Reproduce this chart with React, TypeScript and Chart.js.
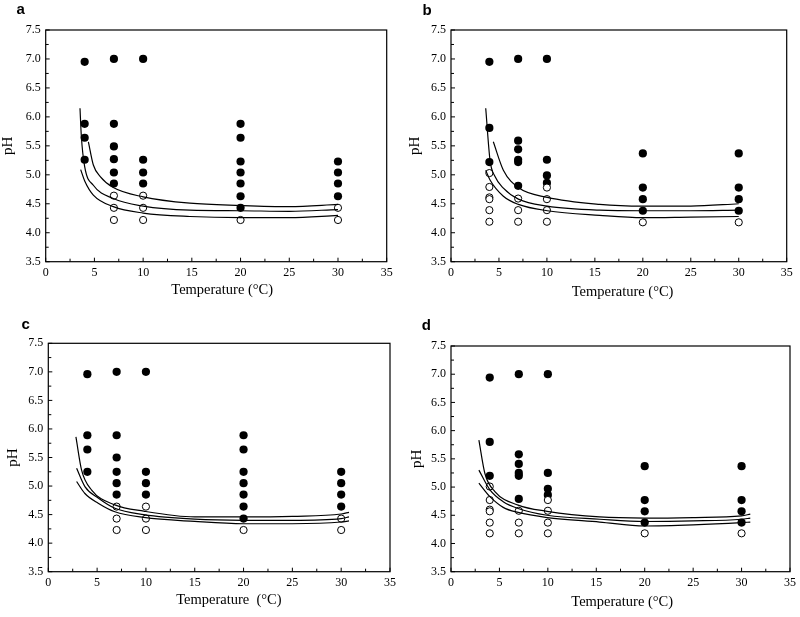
import React, { useEffect, useRef } from "react";
import { Chart, registerables } from "chart.js";

Chart.register(...registerables);

// ---------- shared axes ----------
const TEMPS = [4, 7, 10, 20, 30];
const X_MIN = 0;
const X_MAX = 35;
const X_STEP = 2.5;
const X_LABEL_EVERY = 5;
const Y_MIN = 3.5;
const Y_MAX = 7.5;
const Y_STEP = 0.25;
const Y_LABEL_EVERY = 0.5;
const Y_TITLE = "pH";

// ---------- panel a ----------
const A_GROWTH = [
  [6.95, 5.88, 5.64, 5.26],
  [7.0, 5.88, 5.49, 5.27, 5.04, 4.85],
  [7.0, 5.26, 5.04, 4.85],
  [5.88, 5.64, 5.23, 5.04, 4.85, 4.63, 4.43],
  [5.23, 5.04, 4.85, 4.63],
];
const A_NO_GROWTH = [[], [4.64, 4.43, 4.22], [4.64, 4.43, 4.22], [4.22], [4.43, 4.22]];
const A_UPPER_T = [4.38, 4.89, 5.6, 6.94, 10.0, 14.8, 20, 25, 30];
const A_UPPER_PH = [5.57, 5.17, 4.97, 4.78, 4.62, 4.51, 4.47, 4.45, 4.49];
const A_MID_T = [3.52, 3.66, 4.0, 4.89, 6.94, 10.0, 14.8, 20, 25, 30];
const A_MID_PH = [6.15, 5.66, 5.14, 4.82, 4.59, 4.46, 4.39, 4.38, 4.37, 4.4];
const A_LOWER_T = [3.59, 4.04, 4.89, 6.94, 10.0, 14.8, 20, 25, 30];
const A_LOWER_PH = [5.09, 4.88, 4.65, 4.45, 4.34, 4.28, 4.26, 4.26, 4.3];

// ---------- panel b ----------
const B_GROWTH = [
  [6.95, 5.81, 5.22],
  [7.0, 5.59, 5.44, 5.26, 5.22, 4.81],
  [7.0, 5.26, 4.99, 4.86],
  [5.37, 4.78, 4.58, 4.38],
  [5.37, 4.78, 4.58, 4.38],
];
const B_NO_GROWTH = [
  [5.03, 4.79, 4.61, 4.58, 4.39, 4.19],
  [4.59, 4.39, 4.19],
  [4.78, 4.58, 4.39, 4.19],
  [4.18],
  [4.18],
];
const B_UPPER_T = [4.41, 5.46, 7.02, 10.04, 15.5, 20, 25, 30];
const B_UPPER_PH = [5.57, 5.08, 4.78, 4.61, 4.49, 4.46, 4.46, 4.5];
const B_MID_T = [3.62, 4.07, 4.59, 5.46, 7.02, 10.04, 15.5, 20, 25, 30];
const B_MID_PH = [6.15, 5.25, 4.97, 4.77, 4.58, 4.46, 4.39, 4.38, 4.38, 4.39];
const B_LOWER_T = [3.62, 4.07, 5.46, 7.02, 10.04, 15.5, 20, 25, 30];
const B_LOWER_PH = [5.08, 4.91, 4.63, 4.49, 4.38, 4.3, 4.26, 4.27, 4.28];

// ---------- panel c ----------
const C_GROWTH = [
  [6.96, 5.89, 5.64, 5.25],
  [7.0, 5.89, 5.5, 5.25, 5.05, 4.85],
  [7.0, 5.25, 5.05, 4.85],
  [5.89, 5.64, 5.25, 5.05, 4.85, 4.64, 4.43],
  [5.25, 5.05, 4.85, 4.64],
];
const C_NO_GROWTH = [[], [4.64, 4.43, 4.23], [4.64, 4.43, 4.23], [4.23], [4.43, 4.23]];
const C_UPPER_T = [2.83, 3.41, 4.44, 6.82, 9.78, 15.0, 20, 25, 30, 30.8];
const C_UPPER_PH = [5.86, 5.28, 4.93, 4.67, 4.56, 4.46, 4.46, 4.47, 4.51, 4.54];
const C_MID_T = [2.9, 3.75, 5.11, 6.82, 9.78, 15.0, 20, 25, 30, 30.8];
const C_MID_PH = [5.31, 4.99, 4.79, 4.61, 4.5, 4.42, 4.4, 4.4, 4.43, 4.46];
const C_LOWER_T = [2.9, 3.75, 5.11, 6.82, 9.78, 15.0, 20, 25, 30, 30.8];
const C_LOWER_PH = [5.08, 4.87, 4.7, 4.55, 4.45, 4.38, 4.34, 4.34, 4.37, 4.39];

// ---------- panel d ----------
const D_GROWTH = [
  [6.94, 5.8, 5.2],
  [7.0, 5.58, 5.41, 5.25, 5.2, 4.79],
  [7.0, 5.25, 4.97, 4.86],
  [5.37, 4.77, 4.57, 4.37],
  [5.37, 4.77, 4.57, 4.37],
];
const D_NO_GROWTH = [
  [5.01, 4.77, 4.6, 4.57, 4.37, 4.18],
  [4.58, 4.37, 4.18],
  [4.77, 4.58, 4.37, 4.18],
  [4.18],
  [4.18],
];
const D_UPPER_T = [2.88, 3.5, 4.53, 6.93, 9.92, 15.35, 20, 25, 30, 30.9];
const D_UPPER_PH = [5.83, 5.24, 4.92, 4.68, 4.57, 4.47, 4.45, 4.46, 4.49, 4.52];
const D_MID_T = [2.88, 4.02, 5.39, 6.93, 9.92, 15.35, 20, 25, 30, 30.9];
const D_MID_PH = [5.3, 4.95, 4.74, 4.62, 4.5, 4.43, 4.39, 4.4, 4.43, 4.45];
const D_LOWER_T = [2.88, 4.02, 5.39, 6.93, 9.92, 15.35, 20, 25, 30, 30.9];
const D_LOWER_PH = [5.07, 4.83, 4.64, 4.55, 4.46, 4.38, 4.31, 4.33, 4.37, 4.38];

const SERIF = "'Liberation Serif', 'Times New Roman', serif";
const SANS = "'Liberation Sans', Arial, sans-serif";

type Pt = { x: number; y: number };

function columnPoints(cols: number[][]): Pt[] {
  return TEMPS.flatMap((t, i) => cols[i].map((ph) => ({ x: t, y: ph })));
}
function curvePoints(ts: number[], phs: number[]): Pt[] {
  return ts.map((t, i) => ({ x: t, y: phs[i] }));
}

type PanelSpec = {
  key: string;
  left: number;
  top: number;
  w: number;
  h: number;
  area: { l: number; t: number; r: number; b: number };
  labelLeft: number;
  labelTop: number;
  yTitlePad: number;
  xTitle: string;
  xTitleCY: number;
  xTitleDx: number;
  growth: number[][];
  noGrowth: number[][];
  curves: [number[], number[]][];
};

const PANELS: PanelSpec[] = [
  {
    key: "a", left: 0, top: 0, w: 400, h: 310,
    area: { l: 45.7, t: 30, r: 386.7, b: 261.7 },
    labelLeft: 16.5, labelTop: 0.5, yTitlePad: -1.3,
    xTitle: "Temperature (°C)", xTitleCY: 290.5, xTitleDx: 6,
    growth: A_GROWTH, noGrowth: A_NO_GROWTH,
    curves: [[A_UPPER_T, A_UPPER_PH], [A_MID_T, A_MID_PH], [A_LOWER_T, A_LOWER_PH]],
  },
  {
    key: "b", left: 400, top: 0, w: 400, h: 310,
    area: { l: 51, t: 30, r: 386.7, b: 261.7 },
    labelLeft: 22.5, labelTop: 1.5, yTitlePad: 6,
    xTitle: "Temperature (°C)", xTitleCY: 292, xTitleDx: 3.7,
    growth: B_GROWTH, noGrowth: B_NO_GROWTH,
    curves: [[B_UPPER_T, B_UPPER_PH], [B_MID_T, B_MID_PH], [B_LOWER_T, B_LOWER_PH]],
  },
  {
    key: "c", left: 0, top: 310, w: 400, h: 307,
    area: { l: 48.3, t: 33.3, r: 390.7, b: 261.7 },
    labelLeft: 21.5, labelTop: 5.5, yTitlePad: 4,
    xTitle: "Temperature  (°C)", xTitleCY: 290, xTitleDx: 9.7,
    growth: C_GROWTH, noGrowth: C_NO_GROWTH,
    curves: [[C_UPPER_T, C_UPPER_PH], [C_MID_T, C_MID_PH], [C_LOWER_T, C_LOWER_PH]],
  },
  {
    key: "d", left: 400, top: 310, w: 400, h: 307,
    area: { l: 51, t: 36, r: 390.7, b: 261.7 },
    labelLeft: 21.7, labelTop: 6.5, yTitlePad: 8,
    xTitle: "Temperature (°C)", xTitleCY: 292, xTitleDx: 1.7,
    growth: D_GROWTH, noGrowth: D_NO_GROWTH,
    curves: [[D_UPPER_T, D_UPPER_PH], [D_MID_T, D_MID_PH], [D_LOWER_T, D_LOWER_PH]],
  },
];

function isMultiple(v: number, step: number) {
  const r = v / step;
  return Math.abs(r - Math.round(r)) < 1e-6;
}

function Panel({ spec }: { spec: PanelSpec }) {
  const ref = useRef<HTMLCanvasElement | null>(null);
  useEffect(() => {
    if (!ref.current) return;
    const { area, w, h } = spec;
    const framePlugin = {
      id: "frame" + spec.key,
      afterDraw(chart: any) {
        const { ctx, chartArea: a, scales } = chart;
        ctx.save();
        ctx.strokeStyle = "#000";
        ctx.lineWidth = 1.2;
        ctx.strokeRect(a.left, a.top, a.right - a.left, a.bottom - a.top);
        ctx.lineWidth = 1;
        ctx.beginPath();
        const xs = scales.x;
        xs.ticks.forEach((t: any) => {
          const px = xs.getPixelForValue(t.value);
          const len = isMultiple(t.value, X_LABEL_EVERY) ? 4 : 3;
          ctx.moveTo(px, a.bottom);
          ctx.lineTo(px, a.bottom - len);
        });
        const ys = scales.y;
        ys.ticks.forEach((t: any) => {
          const py = ys.getPixelForValue(t.value);
          const len = isMultiple(t.value, Y_LABEL_EVERY) ? 4 : 3;
          ctx.moveTo(a.left, py);
          ctx.lineTo(a.left + len, py);
        });
        ctx.stroke();
        ctx.fillStyle = "#000";
        ctx.font = `14.5px ${SERIF}`;
        ctx.textAlign = "center";
        ctx.textBaseline = "middle";
        ctx.fillText(spec.xTitle, (a.left + a.right) / 2 + spec.xTitleDx, spec.xTitleCY);
        ctx.restore();
      },
    };

    const lineSets = spec.curves.map(([ts, phs], i) => ({
      type: "line" as const,
      label: "boundary " + (i + 1),
      data: curvePoints(ts, phs),
      borderColor: "#000",
      borderWidth: 1.2,
      pointRadius: 0,
      fill: false,
      cubicInterpolationMode: "monotone" as const,
      order: 0,
    }));

    const chart = new Chart(ref.current, {
      type: "scatter",
      data: {
        datasets: [
          ...lineSets,
          {
            label: "no growth",
            data: columnPoints(spec.noGrowth),
            pointRadius: 3.6,
            pointBackgroundColor: "#fff",
            pointBorderColor: "#000",
            pointBorderWidth: 1,
            order: 1,
          },
          {
            label: "growth",
            data: columnPoints(spec.growth),
            pointRadius: 4.1,
            pointBackgroundColor: "#000",
            pointBorderColor: "#000",
            pointBorderWidth: 0,
            order: 2,
          },
        ] as any,
      },
      options: {
        animation: false,
        responsive: false,
        events: [],
        layout: { padding: { left: 0, top: area.t, right: w - area.r, bottom: 0 } },
        plugins: { legend: { display: false }, tooltip: { enabled: false } },
        scales: {
          x: {
            type: "linear",
            min: X_MIN,
            max: X_MAX,
            afterFit: (s: any) => {
              s.height = h - area.b;
            },
            grid: { display: false, drawTicks: false },
            border: { display: false },
            ticks: {
              stepSize: X_STEP,
              autoSkip: false,
              maxRotation: 0,
              padding: 4,
              color: "#000",
              font: { family: SERIF, size: 12 },
              callback: (v: any) => (isMultiple(Number(v), X_LABEL_EVERY) ? String(v) : ""),
            },
          },
          y: {
            type: "linear",
            min: Y_MIN,
            max: Y_MAX,
            afterFit: (s: any) => {
              s.width = area.l;
            },
            grid: { display: false, drawTicks: false },
            border: { display: false },
            title: {
              display: true,
              text: Y_TITLE,
              color: "#000",
              font: { family: SERIF, size: 15 },
              padding: { top: spec.yTitlePad, bottom: 0 },
            },
            ticks: {
              stepSize: Y_STEP,
              autoSkip: false,
              padding: 5,
              color: "#000",
              font: { family: SERIF, size: 12 },
              callback: (v: any) =>
                isMultiple(Number(v), Y_LABEL_EVERY) ? Number(v).toFixed(1) : "",
            },
          },
        },
      },
      plugins: [framePlugin],
    });
    return () => chart.destroy();
  }, [spec]);

  return (
    <>
      <canvas
        ref={ref}
        width={spec.w}
        height={spec.h}
        style={{ position: "absolute", left: spec.left, top: spec.top, width: spec.w, height: spec.h }}
      />
      <div
        style={{
          position: "absolute",
          left: spec.left + spec.labelLeft,
          top: spec.top + spec.labelTop,
          font: `bold 15px ${SANS}`,
          lineHeight: "15px",
          color: "#000",
        }}
      >
        {spec.key}
      </div>
    </>
  );
}

export default function App() {
  return (
    <div
      style={{
        position: "absolute",
        left: 0,
        top: 0,
        width: 800,
        height: 617,
        background: "#fff",
        overflow: "hidden",
      }}
    >
      {PANELS.map((p) => (
        <Panel key={p.key} spec={p} />
      ))}
    </div>
  );
}
